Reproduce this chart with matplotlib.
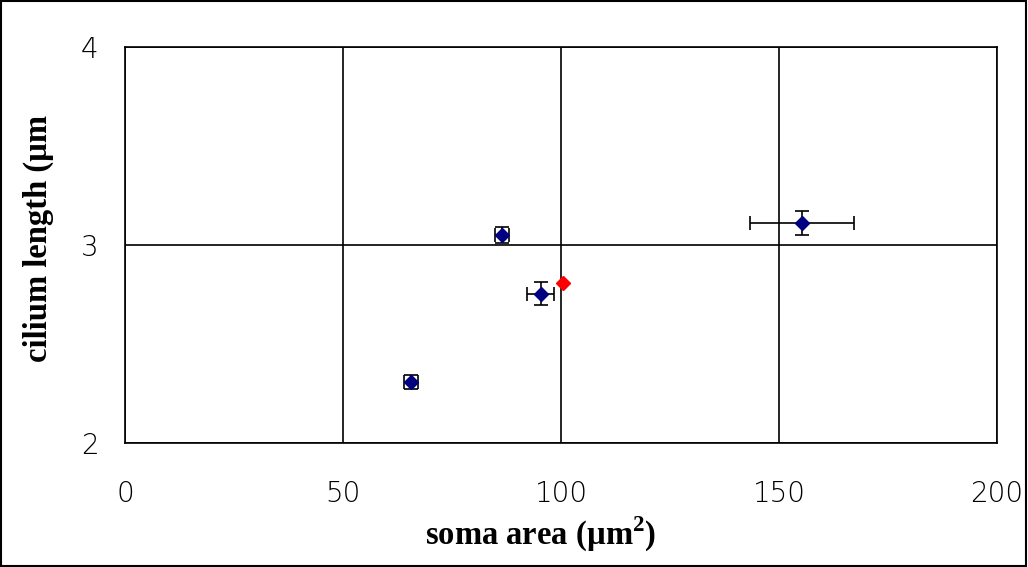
import numpy as np
from matplotlib import pyplot as plt

plt.rcParams['font.family'] = ['Liberation Serif', 'DejaVu Serif']
plt.rcParams['mathtext.fontset'] = 'custom'
plt.rcParams['mathtext.rm'] = 'Liberation Serif'
plt.rcParams['mathtext.bf'] = 'Liberation Serif:bold'

soma_area = np.array([65.6, 86.5, 95.4, 155.3])
cilium_len = np.array([2.31, 3.05, 2.755, 3.11])
area_err = np.array([1.6, 1.6, 3.1, 12.0])
len_err = np.array([0.035, 0.04, 0.058, 0.062])
ref_area = [100.5]
ref_len = [2.81]

fig = plt.figure(figsize=(10.28, 5.67), dpi=100)
ax = fig.add_axes([125 / 1028, 1 - 443 / 567, 872 / 1028, 396 / 567])

ax.errorbar(soma_area, cilium_len, xerr=area_err, yerr=len_err, fmt='D',
            color='#000080', ecolor='black', elinewidth=1.2, capsize=5,
            capthick=1.2, markersize=7.5, zorder=3)
ax.plot(ref_area, ref_len, 'D', color='#ff0000', markersize=7.5, zorder=4)

ax.set_xlim(0, 200)
ax.set_ylim(2, 4)
ax.set_xticks([0, 50, 100, 150, 200])
ax.set_yticks([2, 3, 4])
ax.grid(True, color='black', linewidth=1.2)
for s in ax.spines.values():
    s.set_color('black')
    s.set_linewidth(1.2)
ax.tick_params(length=0, labelsize=20, pad=19)
ax.tick_params(axis='x', pad=27)
for lab in ax.get_xticklabels() + ax.get_yticklabels():
    lab.set_family('DejaVu Sans')
    lab.set_fontweight('light')

ax.set_xlabel(r'soma area (µm$^{\mathbf{2}}$)', fontsize=23.5, fontweight='bold')
ax.set_ylabel('cilium length (µm', fontsize=23.5, fontweight='bold')
ax.xaxis.set_label_coords(541 / 1028, 33 / 567, transform=fig.transFigure)
ax.xaxis.label.set_va('center')
ax.yaxis.set_label_coords(38 / 1028, 1 - 239 / 567, transform=fig.transFigure)
ax.yaxis.label.set_va('center')

fig.patches.append(plt.Rectangle((0.001, 0.002), 0.997, 0.996, transform=fig.transFigure,
                                 fill=False, edgecolor='black', linewidth=1.5))

fig.savefig('out.png', dpi=100)
